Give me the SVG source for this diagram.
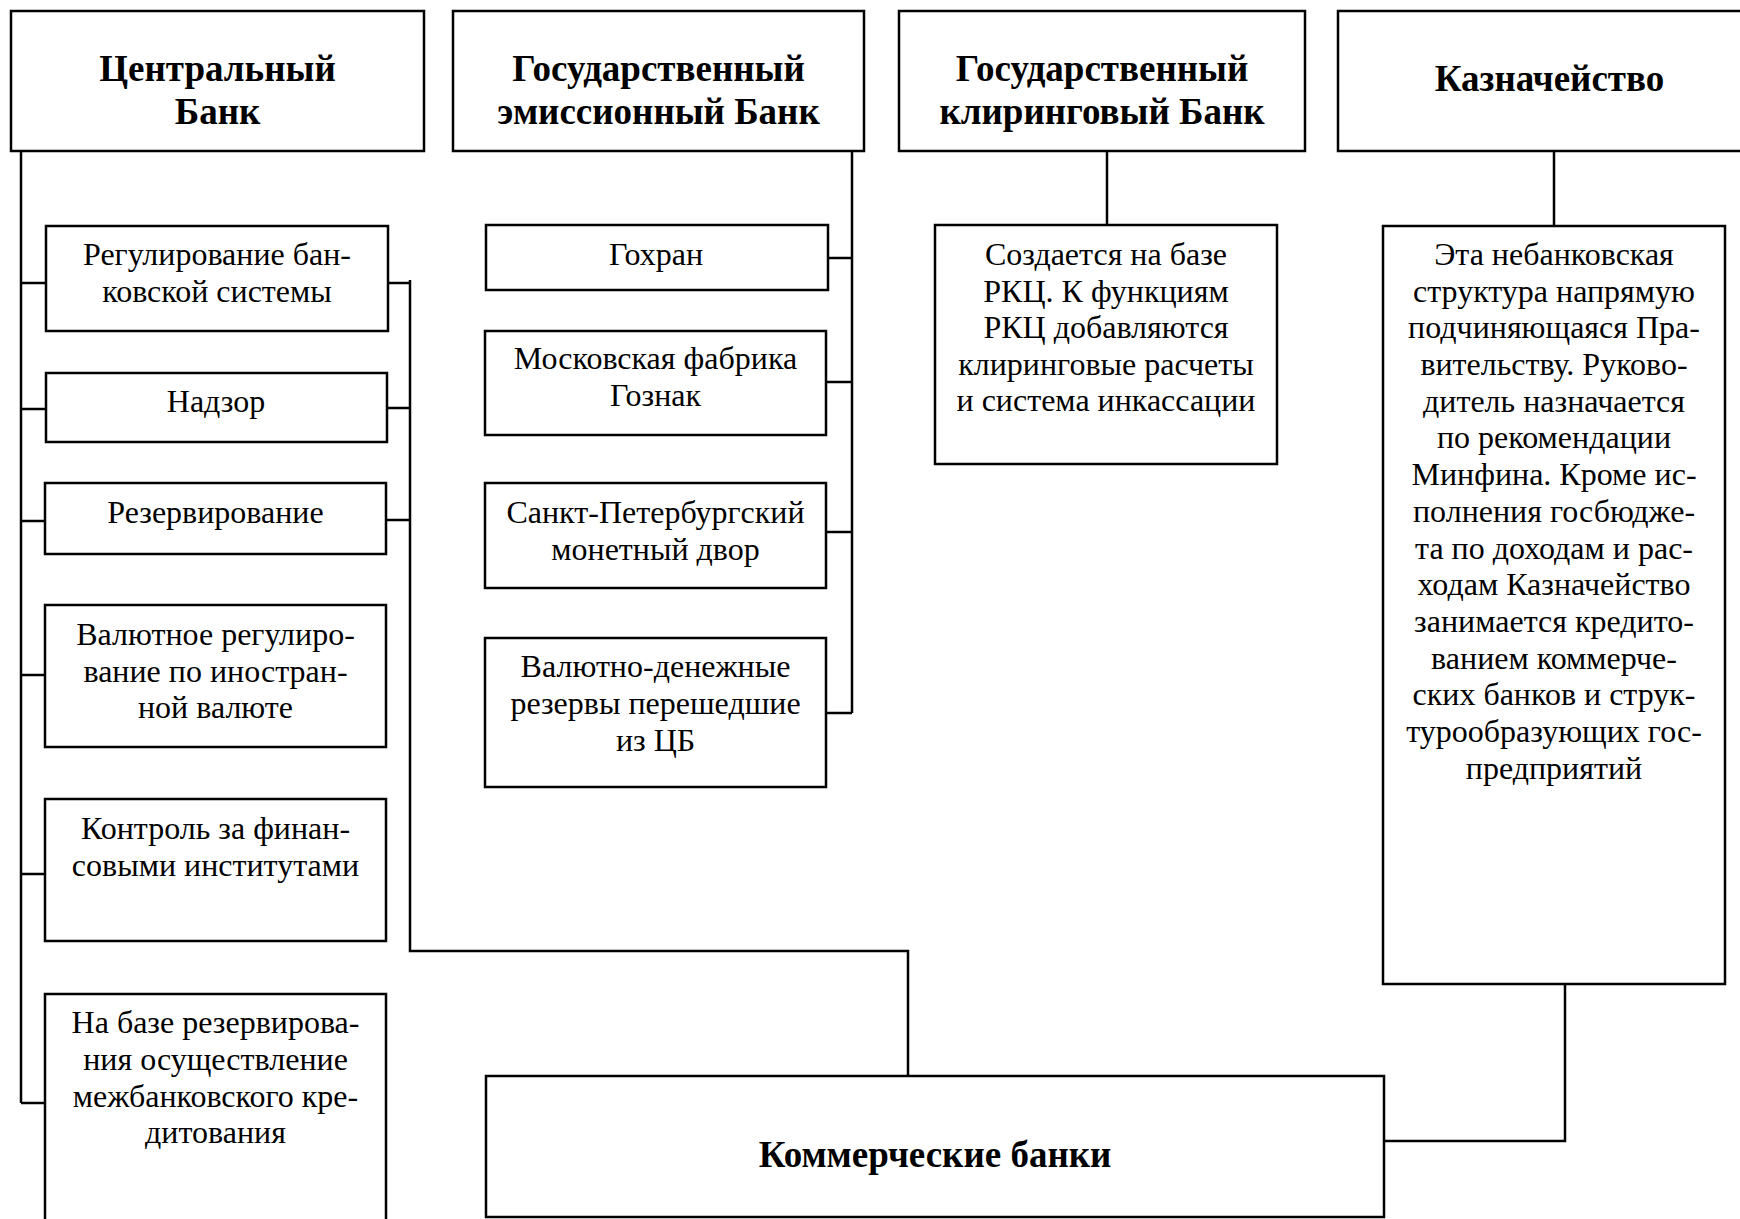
<svg xmlns="http://www.w3.org/2000/svg" width="1740" height="1219" viewBox="0 0 1740 1219">
<style>
.box{fill:#fff;stroke:#000;stroke-width:2.5}
.ln{fill:none;stroke:#000;stroke-width:2.5}
.h{font-family:"Liberation Serif","Times New Roman",serif;font-weight:bold;font-size:37px;text-anchor:middle;fill:#000}
.t{font-family:"Liberation Serif","Times New Roman",serif;font-size:32px;text-anchor:middle;fill:#000}
</style>
<rect width="1740" height="1219" fill="#fff"/>
<g id="connectors">
<path class="ln" d="M21,151 V1103 M21,283 H46 M21,409 H46 M21,521 H45 M21,675 H45 M21,874 H45 M21,1103 H45"/>
<path class="ln" d="M388,283 H410 M387,408 H410 M386,520 H410 M410,280 V951 H908 V1076"/>
<path class="ln" d="M852,151 V713 M828,258 H852 M826,382 H852 M826,532 H852 M826,713 H852"/>
<path class="ln" d="M1107,151 V225"/>
<path class="ln" d="M1554,151 V226 M1565,984 V1141 H1384"/>
</g>
<g id="cb">
<rect class="box" x="11" y="11" width="413" height="140"/>
<text class="h" x="217.5" y="81">Центральный</text>
<text class="h" x="217.5" y="124">Банк</text>
</g>
<g id="geb">
<rect class="box" x="453" y="11" width="411" height="140"/>
<text class="h" x="658.5" y="81">Государственный</text>
<text class="h" x="658.5" y="124">эмиссионный Банк</text>
</g>
<g id="gkb">
<rect class="box" x="899" y="11" width="406" height="140"/>
<text class="h" x="1102" y="81">Государственный</text>
<text class="h" x="1102" y="124">клиринговый Банк</text>
</g>
<g id="kaz">
<rect class="box" x="1338" y="11" width="423" height="140"/>
<text class="h" x="1549.5" y="91">Казначейство</text>
</g>
<g id="cb1">
<rect class="box" x="46" y="226" width="342" height="105"/>
<text class="t" x="217" y="265">Регулирование бан-</text>
<text class="t" x="217" y="302">ковской системы</text>
</g>
<g id="cb2">
<rect class="box" x="46" y="373" width="341" height="69"/>
<text class="t" x="216" y="412">Надзор</text>
</g>
<g id="cb3">
<rect class="box" x="45" y="483" width="341" height="71"/>
<text class="t" x="215.5" y="523">Резервирование</text>
</g>
<g id="cb4">
<rect class="box" x="45" y="605" width="341" height="142"/>
<text class="t" x="215.5" y="645">Валютное регулиро-</text>
<text class="t" x="215.5" y="682">вание по иностран-</text>
<text class="t" x="215.5" y="718">ной валюте</text>
</g>
<g id="cb5">
<rect class="box" x="45" y="799" width="341" height="142"/>
<text class="t" x="215.5" y="839">Контроль за финан-</text>
<text class="t" x="215.5" y="876">совыми институтами</text>
</g>
<g id="cb6">
<rect class="box" x="45" y="994" width="341" height="240"/>
<text class="t" x="215.5" y="1033">На базе резервирова-</text>
<text class="t" x="215.5" y="1070">ния осуществление</text>
<text class="t" x="215.5" y="1107">межбанковского кре-</text>
<text class="t" x="215.5" y="1143">дитования</text>
</g>
<g id="geb1">
<rect class="box" x="486" y="225" width="342" height="65"/>
<text class="t" x="656" y="265">Гохран</text>
</g>
<g id="geb2">
<rect class="box" x="485" y="331" width="341" height="104"/>
<text class="t" x="655.5" y="369">Московская фабрика</text>
<text class="t" x="655.5" y="406">Гознак</text>
</g>
<g id="geb3">
<rect class="box" x="485" y="483" width="341" height="105"/>
<text class="t" x="655.5" y="523">Санкт-Петербургский</text>
<text class="t" x="655.5" y="560">монетный двор</text>
</g>
<g id="geb4">
<rect class="box" x="485" y="638" width="341" height="149"/>
<text class="t" x="655.5" y="677">Валютно-денежные</text>
<text class="t" x="655.5" y="714">резервы перешедшие</text>
<text class="t" x="655.5" y="751">из ЦБ</text>
</g>
<g id="gkb1">
<rect class="box" x="935" y="225" width="342" height="239"/>
<text class="t" x="1106" y="265">Создается на базе</text>
<text class="t" x="1106" y="302">РКЦ. К функциям</text>
<text class="t" x="1106" y="338">РКЦ добавляются</text>
<text class="t" x="1106" y="375">клиринговые расчеты</text>
<text class="t" x="1106" y="411">и система инкассации</text>
</g>
<g id="kaz1">
<rect class="box" x="1383" y="226" width="342" height="758"/>
<text class="t" x="1554" y="265">Эта небанковская</text>
<text class="t" x="1554" y="302">структура напрямую</text>
<text class="t" x="1554" y="338">подчиняющаяся Пра-</text>
<text class="t" x="1554" y="375">вительству. Руково-</text>
<text class="t" x="1554" y="412">дитель назначается</text>
<text class="t" x="1554" y="448">по рекомендации</text>
<text class="t" x="1554" y="485">Минфина. Кроме ис-</text>
<text class="t" x="1554" y="522">полнения госбюдже-</text>
<text class="t" x="1554" y="559">та по доходам и рас-</text>
<text class="t" x="1554" y="595">ходам Казначейство</text>
<text class="t" x="1554" y="632">занимается кредито-</text>
<text class="t" x="1554" y="669">ванием коммерче-</text>
<text class="t" x="1554" y="705">ских банков и струк-</text>
<text class="t" x="1554" y="742">турообразующих гос-</text>
<text class="t" x="1554" y="779">предприятий</text>
</g>
<g id="kb">
<rect class="box" x="486" y="1076" width="898" height="141"/>
<text class="h" x="935" y="1167">Коммерческие банки</text>
</g>
</svg>
